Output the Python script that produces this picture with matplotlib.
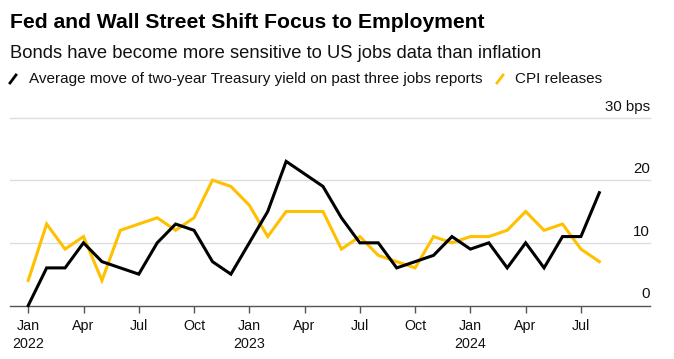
import matplotlib
matplotlib.use("Agg")
import matplotlib.pyplot as plt
from matplotlib.lines import Line2D
import numpy as np

plt.rcParams['font.family'] = ['Liberation Sans', 'DejaVu Sans']

# monthly data, Jan 2022 .. Aug 2024 (bps)
months = np.arange(32)
jobs_move = [0, 6, 6, 10, 7, 6, 5, 10, 13, 12, 7, 5,
             10, 15, 23, 21, 19, 14, 10, 10, 6, 7, 8, 11,
             9, 10, 6, 10, 6, 11, 11, 18]
cpi_move = [4, 13, 9, 11, 4, 12, 13, 14, 12, 14, 20, 19,
            16, 11, 15, 15, 15, 9, 11, 8, 7, 6, 11, 10,
            11, 11, 12, 15, 12, 13, 9, 7]

tick_pos = [0, 3, 6, 9, 12, 15, 18, 21, 24, 27, 30]
tick_labels = ["Jan\n2022", "Apr", "Jul", "Oct", "Jan\n2023", "Apr", "Jul", "Oct",
               "Jan\n2024", "Apr", "Jul"]
y_vals = [0, 10, 20, 30]
y_labels = ["0", "10", "20", "30 bps"]

BLACK = "#000000"
YELLOW = "#FFC000"

W, H = 674, 359
fig = plt.figure(figsize=(W / 100, H / 100), dpi=100)

# axes placed in pixel coords
left, right, bottom, top = 10, 650, 305.5, 117.5
ax = fig.add_axes([left / W, 1 - bottom / H, (right - left) / W, (bottom - top) / H])

ax.plot(months, cpi_move, color=YELLOW, lw=2.2, solid_joinstyle="miter", zorder=3)
ax.plot(months, jobs_move, color=BLACK, lw=2.2, solid_joinstyle="miter", zorder=4,
        clip_on=False)

ax.set_xlim(-0.99, 33.75)
ax.set_ylim(0, 30)

for s in ["top", "left", "right"]:
    ax.spines[s].set_visible(False)
ax.spines["bottom"].set_color("#555555")
ax.spines["bottom"].set_linewidth(1.0)

for v in y_vals[1:]:
    ax.axhline(v, color="#dddddd", lw=1.0, zorder=1, clip_on=False)

ax.set_yticks([])
ax.set_xticks(tick_pos)
ax.set_xticklabels(tick_labels, fontsize=10.3, color="#111111", linespacing=1.3,
                   va="top")
ax.tick_params(axis="x", length=5, width=1.0, color="#555555", pad=5)

for v, lab in zip(y_vals, y_labels):
    ax.annotate(lab, xy=(1.0, v), xycoords=ax.get_yaxis_transform(),
                xytext=(0, 4), textcoords="offset pixels",
                ha="right", va="bottom", fontsize=10.8, color="#111111")

# title block
fig.text(10 / W, 1 - 23 / H, "Fed and Wall Street Shift Focus to Employment",
         fontsize=15.2, fontweight="bold", va="center", ha="left", color="#000000")
fig.text(10 / W, 1 - 54 / H, "Bonds have become more sensitive to US jobs data than inflation",
         fontsize=13.2, va="center", ha="left", color="#111111")

# legend with slanted stroke glyphs
fig.add_artist(Line2D([10 / W, 16 / W], [1 - 83 / H, 1 - 75 / H],
                      color=BLACK, lw=2.0, transform=fig.transFigure))
fig.text(29 / W, 1 - 79 / H,
         "Average move of two-year Treasury yield on past three jobs reports",
         fontsize=11.0, va="center", ha="left", color="#111111")
fig.add_artist(Line2D([497 / W, 503 / W], [1 - 83 / H, 1 - 75 / H],
                      color=YELLOW, lw=2.0, transform=fig.transFigure))
fig.text(515 / W, 1 - 79 / H, "CPI releases",
         fontsize=11.0, va="center", ha="left", color="#111111")

fig.savefig("out.png", dpi=100)
